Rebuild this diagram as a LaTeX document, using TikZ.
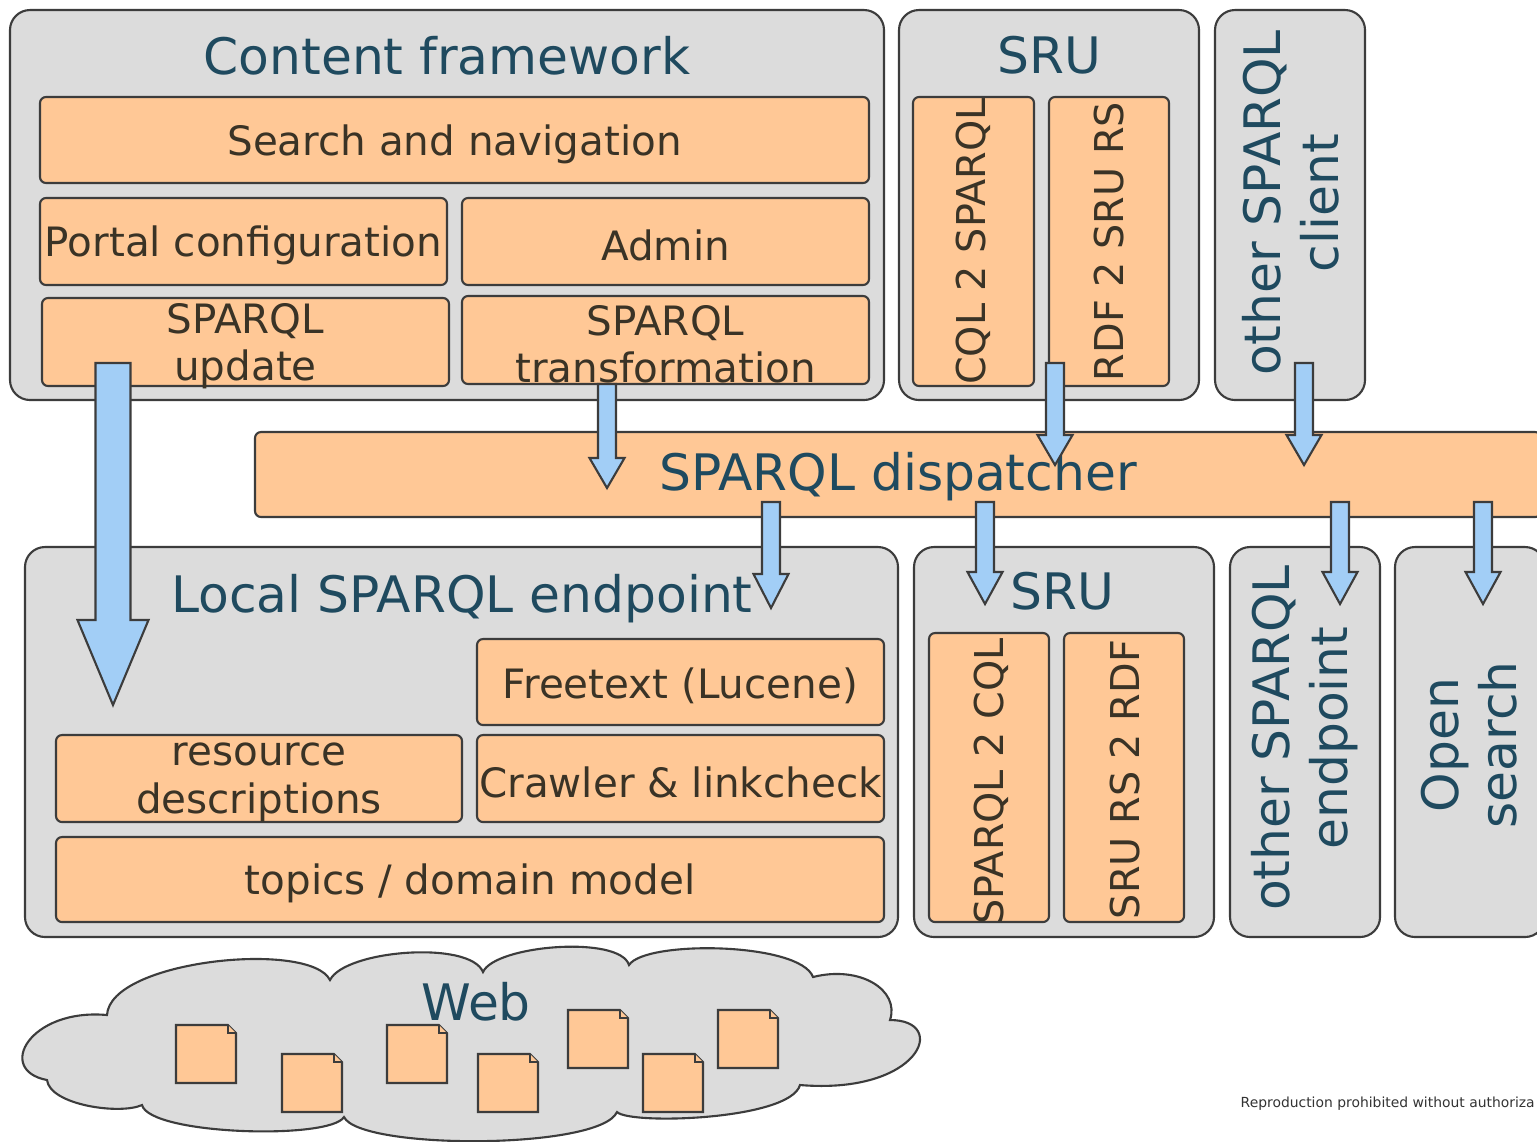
\documentclass[tikz,border=0pt]{standalone}
\usepackage{fontspec}
\setmainfont{DejaVu Sans}
\usetikzlibrary{fit,calc}
\definecolor{gfill}{HTML}{DCDCDC}
\definecolor{ofill}{HTML}{FFC896}
\definecolor{afill}{HTML}{A2CEF6}
\definecolor{lcol}{HTML}{3C3C3C}
\definecolor{tcol}{HTML}{1F4A5F}
\definecolor{bcol}{HTML}{3A3326}
\newcommand\blockarrow[5]{%
  \draw[barrow] ($(#1)+(-#3,0)$) -- ($(#1)+(#3,0)$) -- ($(#2)+(#3,-#5)$) -- ($(#2)+(#4,-#5)$) -- (#2)
    -- ($(#2)+(-#4,-#5)$) -- ($(#2)+(-#3,-#5)$) -- cycle;}
% orange box with centred text: name, corner, corner, text
\newcommand\obx[4]{%
  \node[obox, fit={#2#3}] (#1) {};
  \node[otxt] (#1-t) at ($(#1.center)+(0,4)$) {#4};}
% orange box with vertical text: name, corner, corner, text, shift
\newcommand\obxv[5]{%
  \node[obox, fit={#2#3}] (#1) {};
  \node[vtxt] (#1-t) at ($(#1.center)+#5$) {#4};}
\tikzset{
  gbox/.style={draw=lcol, line width=0.6pt, fill=gfill, rounded corners=0.2cm, inner sep=0pt},
  obox/.style={draw=lcol, line width=0.6pt, fill=ofill, rounded corners=0.06cm, inner sep=0pt},
  otxt/.style={text=bcol, font=\fontsize{11.5}{13.5}\selectfont, align=center, inner sep=0pt},
  ttl/.style={text=tcol, font=\fontsize{14.3}{16.5}\selectfont, inner sep=0pt, align=center},
  vtxt/.style={text=bcol, font=\fontsize{11.3}{13.5}\selectfont, rotate=90, inner sep=0pt},
  barrow/.style={draw=lcol, line width=0.6pt, fill=afill, line join=miter},
  docst/.style={draw=lcol, line width=0.6pt, fill=ofill},
  docpic/.pic={\draw[docst] (0,0) -- (52,0) -- (60,8) -- (60,58) -- (0,58) -- cycle;
               \draw[docst] (52,0) -- (52,8) -- (60,8);}
}
\begin{document}
\begin{tikzpicture}[x=0.01cm,y=-0.01cm]
\useasboundingbox (0,0) rectangle (1537,1141);
\clip (0,0) rectangle (1537,1141);
\fill[white] (0,0) rectangle (1537,1141);

% ---- Content framework
\node[gbox, fit={(10,10)(884,400)}] (cf) {};
\node[ttl, anchor=base] (cft) at (447,74) {Content framework};
\obx{search}{(40,97)}{(869,183)}{Search and navigation}
\obx{portal}{(40,198)}{(447,285)}{Portal configuration}
\obx{admin}{(462,198)}{(869,285)}{Admin}
\obx{update}{(42,298)}{(449,386)}{SPARQL\\update}
\obx{transf}{(462,296)}{(869,384)}{SPARQL\\transformation}

% ---- SRU (top)
\node[gbox, fit={(899,10)(1199,400)}] (sru1) {};
\node[ttl, anchor=base] (sru1t) at (1049,73) {SRU};
\obxv{cql}{(913,97)}{(1034,386)}{CQL 2 SPARQL}{(0,0)}
\obxv{rdf}{(1049,97)}{(1169,386)}{RDF 2 SRU RS}{(0,0)}

% ---- other SPARQL client
\node[gbox, fit={(1215,10)(1365,400)}] (client) {};
\node[ttl, rotate=90] (clientt) at (1291,203) {other SPARQL\\client};

% ---- SPARQL dispatcher
\node[obox, fit={(255,432)(1541,517)}] (disp) {};
\node[ttl] (dispt) at ($(disp.center)+(0,2)$) {SPARQL dispatcher};

% ---- Local SPARQL endpoint
\node[gbox, fit={(25,547)(898,937)}] (local) {};
\node[ttl, anchor=base] (localt) at (462,612) {Local SPARQL endpoint};
\obx{free}{(477,639)}{(884,725)}{Freetext (Lucene)}
\obx{res}{(56,735)}{(462,822)}{resource\\descriptions}
\obx{crawl}{(477,735)}{(884,822)}{Crawler \& linkcheck}
\obx{topics}{(56,837)}{(884,922)}{topics / domain model}

% ---- SRU (bottom)
\node[gbox, fit={(914,547)(1214,937)}] (sru2) {};
\node[ttl, anchor=base] (sru2t) at (1062,609) {SRU};
\obxv{s2c}{(929,633)}{(1049,922)}{SPARQL 2 CQL}{(2,4)}
\obxv{r2r}{(1064,633)}{(1184,922)}{SRU RS 2 RDF}{(1,2)}

% ---- other SPARQL endpoint
\node[gbox, fit={(1230,547)(1380,937)}] (oep) {};
\node[ttl, rotate=90] (oept) at (1305,738) {other SPARQL\\endpoint};

% ---- Open search
\node[gbox, fit={(1395,547)(1545,937)}] (open) {};
\node[ttl, rotate=90] (opent) at (1469,745) {Open\\search};

% ---- Web cloud
\draw[draw=lcol, line width=0.6pt, fill=gfill]
  (47,1080) .. controls (-5,1070) and (30,1008) .. (107,1015)
  .. controls (110,960) and (310,940) .. (330,980)
  .. controls (345,950) and (470,940) .. (483,972)
  .. controls (495,945) and (620,935) .. (629,965)
  .. controls (645,940) and (800,942) .. (813,977)
  .. controls (860,965) and (900,990) .. (890,1020)
  .. controls (950,1020) and (920,1095) .. (800,1085)
  .. controls (790,1120) and (630,1125) .. (617,1112)
  .. controls (600,1150) and (360,1150) .. (344,1117)
  .. controls (330,1140) and (150,1135) .. (142,1105)
  .. controls (120,1115) and (50,1105) .. cycle;
\node[ttl, anchor=base] (webt) at (476,1020) {Web};
\pic at (176,1025) {docpic};
\pic at (282,1054) {docpic};
\pic at (387,1025) {docpic};
\pic at (478,1054) {docpic};
\pic at (568,1010) {docpic};
\pic at (643,1054) {docpic};
\pic at (718,1010) {docpic};

% ---- arrows
\coordinate (a1s) at (113,363);  \coordinate (a1e) at (113,705);
\coordinate (a2s) at (607,384);  \coordinate (a2e) at (607,488);
\coordinate (a3s) at (1055,363); \coordinate (a3e) at (1055,465);
\coordinate (a4s) at (1304,363); \coordinate (a4e) at (1304,465);
\coordinate (a5s) at (771,502);  \coordinate (a5e) at (771,608);
\coordinate (a6s) at (985,502);  \coordinate (a6e) at (985,604);
\coordinate (a7s) at (1340,502); \coordinate (a7e) at (1340,604);
\coordinate (a8s) at (1483,502); \coordinate (a8e) at (1483,604);
\blockarrow{a1s}{a1e}{17.5}{35.5}{85}
\blockarrow{a2s}{a2e}{9}{17.5}{30}
\blockarrow{a3s}{a3e}{9}{17.5}{30}
\blockarrow{a4s}{a4e}{9}{17.5}{30}
\blockarrow{a5s}{a5e}{9}{17.5}{34}
\blockarrow{a6s}{a6e}{9}{17.5}{32}
\blockarrow{a7s}{a7e}{9}{17.5}{32}
\blockarrow{a8s}{a8e}{9}{17.5}{32}

% ---- footer
\node[anchor=base west, inner sep=0pt, text=black!80, font=\fontsize{3.95}{5}\selectfont] (repro) at (1240,1107)
  {Reproduction prohibited without authoriza};
\end{tikzpicture}
\end{document}
